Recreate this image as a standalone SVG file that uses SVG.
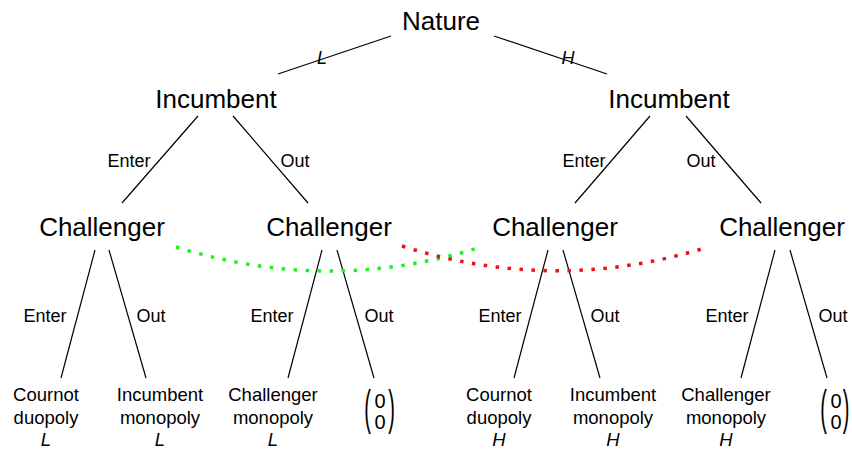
<svg xmlns="http://www.w3.org/2000/svg" width="852" height="451" viewBox="0 0 852 451">
<style>
text{font-family:"Liberation Sans",Arial,sans-serif;fill:#000}
.n{font-size:26px;text-anchor:middle}
.e{font-size:18px;text-anchor:middle}
.lf{font-size:18.5px;text-anchor:middle}
.z{font-size:20px;text-anchor:middle}
.p{font-size:20px;text-anchor:middle;font-weight:300}
.it{font-style:italic}
.c line{stroke:#000;stroke-width:1.2}
.dg{fill:none;stroke:#22ee22;stroke-width:3.5;stroke-dasharray:3.5 8.5}
.dr{fill:none;stroke:#ee1111;stroke-width:3.5;stroke-dasharray:3.5 8.5}
</style>
<g id="connectors" class="c">
<line x1="391" y1="36" x2="278" y2="74"/>
<line x1="494" y1="36" x2="607" y2="74"/>
<line x1="198" y1="116" x2="122" y2="203"/>
<line x1="233" y1="116" x2="308" y2="203"/>
<line x1="650" y1="116" x2="575" y2="203"/>
<line x1="686" y1="116" x2="761" y2="203"/>
<line x1="95" y1="250" x2="61" y2="378"/>
<line x1="109" y1="250" x2="146" y2="378"/>
<line x1="322" y1="250" x2="288" y2="378"/>
<line x1="337" y1="250" x2="374" y2="378"/>
<line x1="548" y1="250" x2="514" y2="378"/>
<line x1="563" y1="250" x2="600" y2="378"/>
<line x1="775" y1="250" x2="741" y2="378"/>
<line x1="790" y1="250" x2="827" y2="378"/>
<text class="e it" x="322" y="64">L</text>
<text class="e it" x="568" y="64">H</text>
<text class="e" x="129" y="167">Enter</text>
<text class="e" x="295" y="167">Out</text>
<text class="e" x="584" y="167">Enter</text>
<text class="e" x="701" y="167">Out</text>
<text class="e" x="45" y="322">Enter</text>
<text class="e" x="151" y="322">Out</text>
<text class="e" x="272" y="322">Enter</text>
<text class="e" x="379" y="322">Out</text>
<text class="e" x="500" y="322">Enter</text>
<text class="e" x="605" y="322">Out</text>
<text class="e" x="727" y="322">Enter</text>
<text class="e" x="833" y="322">Out</text>
<path class="dg" d="M176,247 Q330,295 481,247"/>
<path class="dr" d="M402,246 Q555,295 708,247"/>
</g>
<g id="nature"><text class="n" x="441" y="30">Nature</text></g>
<g id="incumbentL"><text class="n" x="216" y="108">Incumbent</text></g>
<g id="incumbentH"><text class="n" x="669" y="108">Incumbent</text></g>
<g id="challenger1"><text class="n" x="102" y="236">Challenger</text></g>
<g id="challenger2"><text class="n" x="329" y="236">Challenger</text></g>
<g id="challenger3"><text class="n" x="555" y="236">Challenger</text></g>
<g id="challenger4"><text class="n" x="782" y="236">Challenger</text></g>
<g id="leaf1"><text class="lf" x="46" y="401">Cournot</text><text class="lf" x="46" y="424">duopoly</text><text class="lf it" x="46" y="446">L</text></g>
<g id="leaf2"><text class="lf" x="160" y="401">Incumbent</text><text class="lf" x="160" y="424">monopoly</text><text class="lf it" x="160" y="446">L</text></g>
<g id="leaf3"><text class="lf" x="273" y="401">Challenger</text><text class="lf" x="273" y="424">monopoly</text><text class="lf it" x="273" y="446">L</text></g>
<g id="leaf4"><text class="p" x="0" y="5.2" transform="translate(367.5,412) scale(1,2.4)">(</text><text class="z" x="380" y="408">0</text><text class="z" x="380" y="429">0</text><text class="p" x="0" y="5.2" transform="translate(391.5,412) scale(1,2.4)">)</text></g>
<g id="leaf5"><text class="lf" x="499" y="401">Cournot</text><text class="lf" x="499" y="424">duopoly</text><text class="lf it" x="499" y="446">H</text></g>
<g id="leaf6"><text class="lf" x="613" y="401">Incumbent</text><text class="lf" x="613" y="424">monopoly</text><text class="lf it" x="613" y="446">H</text></g>
<g id="leaf7"><text class="lf" x="726" y="401">Challenger</text><text class="lf" x="726" y="424">monopoly</text><text class="lf it" x="726" y="446">H</text></g>
<g id="leaf8"><text class="p" x="0" y="5.2" transform="translate(823.5,412) scale(1,2.4)">(</text><text class="z" x="836" y="408">0</text><text class="z" x="836" y="429">0</text><text class="p" x="0" y="5.2" transform="translate(846,412) scale(1,2.4)">)</text></g>
</svg>
